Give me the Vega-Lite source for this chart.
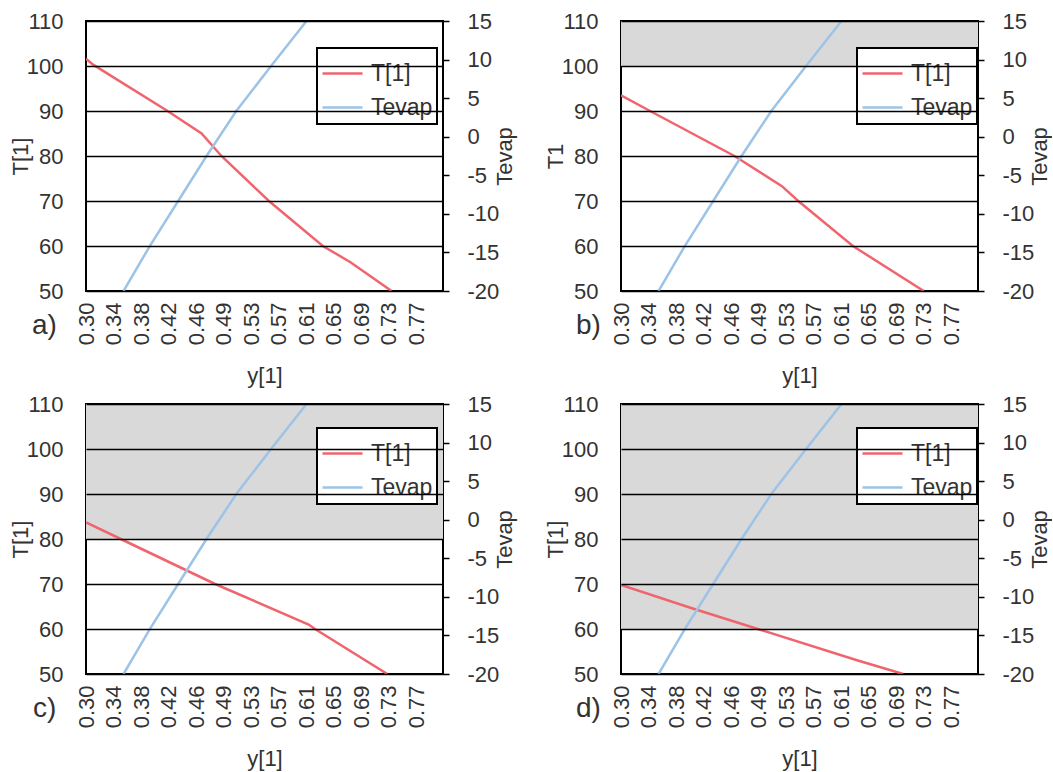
{
  "$schema": "https://vega.github.io/schema/vega-lite/v6.json",
  "padding": {"left": 8, "top": 9, "right": 0, "bottom": 0},
  "background": "white",
  "datasets": {
    "T": [
      {"panel": "a", "y1": 0.300, "T": 101.6},
      {"panel": "a", "y1": 0.310, "T": 100.3},
      {"panel": "a", "y1": 0.415, "T": 90.0},
      {"panel": "a", "y1": 0.463, "T": 85.0},
      {"panel": "a", "y1": 0.491, "T": 80.0},
      {"panel": "a", "y1": 0.558, "T": 70.0},
      {"panel": "a", "y1": 0.634, "T": 60.0},
      {"panel": "a", "y1": 0.673, "T": 56.4},
      {"panel": "a", "y1": 0.731, "T": 50.0},
      {"panel": "b", "y1": 0.300, "T": 93.5},
      {"panel": "b", "y1": 0.341, "T": 90.0},
      {"panel": "b", "y1": 0.460, "T": 80.0},
      {"panel": "b", "y1": 0.527, "T": 73.3},
      {"panel": "b", "y1": 0.550, "T": 70.0},
      {"panel": "b", "y1": 0.627, "T": 60.0},
      {"panel": "b", "y1": 0.727, "T": 50.0},
      {"panel": "c", "y1": 0.300, "T": 83.7},
      {"panel": "c", "y1": 0.349, "T": 80.0},
      {"panel": "c", "y1": 0.482, "T": 70.0},
      {"panel": "c", "y1": 0.614, "T": 61.0},
      {"panel": "c", "y1": 0.623, "T": 60.0},
      {"panel": "c", "y1": 0.725, "T": 50.0},
      {"panel": "d", "y1": 0.300, "T": 69.8},
      {"panel": "d", "y1": 0.400, "T": 64.6},
      {"panel": "d", "y1": 0.493, "T": 60.0},
      {"panel": "d", "y1": 0.634, "T": 53.0},
      {"panel": "d", "y1": 0.698, "T": 50.0}
    ],
    "tevap": [
      {"y1": 0.353, "Tevap": -20.0},
      {"y1": 0.390, "Tevap": -14.17},
      {"y1": 0.430, "Tevap": -8.33},
      {"y1": 0.470, "Tevap": -2.5},
      {"y1": 0.512, "Tevap": 3.33},
      {"y1": 0.561, "Tevap": 9.17},
      {"y1": 0.611, "Tevap": 15.0}
    ],
    "bands": [
      {"panel": "b", "lo": 100, "hi": 110},
      {"panel": "c", "lo": 80, "hi": 110},
      {"panel": "d", "lo": 60, "hi": 110}
    ]
  },
  "columns": 2,
  "spacing": {"row": 4, "column": 26},
  "concat": [
    {
      "width": 357, "height": 270,
      "title": {"text": "a)", "orient": "bottom", "anchor": "start", "frame": "group", "dx": -54, "dy": -79},
      "layer": [
        {
          "layer": [
            {
              "data": {"name": "bands"},
              "transform": [{"filter": "datum.panel === 'a'"}],
              "mark": {"type": "rect", "color": "#d9d9d9"},
              "encoding": {
                "y": {"field": "lo", "type": "quantitative", "scale": {"domain": [50, 110], "nice": false, "zero": false},
                  "axis": {"title": "T[1]", "values": [50, 60, 70, 80, 90, 100, 110], "grid": true, "gridColor": "black", "gridWidth": 1.5, "ticks": false, "domain": false, "labelPadding": 23, "titlePadding": -6, "zindex": 1}},
                "y2": {"field": "hi"}
              }
            },
            {
              "data": {"name": "T"},
              "transform": [{"filter": "datum.panel === 'a'"}, {"calculate": "'T[1]'", "as": "series"}],
              "mark": {"type": "line", "strokeWidth": 2.5, "clip": true},
              "encoding": {
                "x": {"field": "y1", "type": "quantitative", "scale": {"domain": [0.3, 0.8035], "nice": false, "zero": false},
                  "axis": {"title": "y[1]", "values": [0.3, 0.3388, 0.3776, 0.4164, 0.4552, 0.494, 0.5328, 0.5716, 0.6104, 0.6492, 0.688, 0.7268, 0.7656], "format": ".2f", "labelAngle": -90, "labelOverlap": false, "labelFlush": false, "ticks": false, "domain": false, "grid": false, "labelPadding": 11, "titlePadding": 21}},
                "y": {"field": "T", "type": "quantitative", "scale": {"domain": [50, 110], "nice": false, "zero": false},
                  "axis": {"title": "T[1]", "values": [50, 60, 70, 80, 90, 100, 110], "grid": true, "gridColor": "black", "gridWidth": 1.5, "ticks": false, "domain": false, "labelPadding": 23, "titlePadding": -6, "zindex": 1}},
                "color": {"field": "series", "type": "nominal", "scale": {"domain": ["T[1]", "Tevap"], "range": ["#f0646e", "#9dc3e6"]},
                  "legend": {"orient": "none", "legendX": 231, "legendY": 27, "title": null, "strokeColor": "black", "fillColor": "white", "padding": 4, "labelFontSize": 23, "symbolType": "stroke", "symbolSize": 1600, "symbolStrokeWidth": 2.5, "rowPadding": 0, "labelOffset": 7}}
              }
            }
          ]
        },
        {
          "data": {"name": "tevap"},
          "transform": [{"calculate": "'Tevap'", "as": "series"}],
          "mark": {"type": "line", "strokeWidth": 2.5, "clip": true},
          "encoding": {
            "x": {"field": "y1", "type": "quantitative", "scale": {"domain": [0.3, 0.8035], "nice": false, "zero": false},
              "axis": {"title": "y[1]", "values": [0.3, 0.3388, 0.3776, 0.4164, 0.4552, 0.494, 0.5328, 0.5716, 0.6104, 0.6492, 0.688, 0.7268, 0.7656], "format": ".2f", "labelAngle": -90, "labelOverlap": false, "labelFlush": false, "ticks": false, "domain": false, "grid": false, "labelPadding": 11, "titlePadding": 21}},
            "y": {"field": "Tevap", "type": "quantitative", "scale": {"domain": [-20, 15], "nice": false, "zero": false},
              "axis": {"orient": "right", "title": "Tevap", "values": [-20, -15, -10, -5, 0, 5, 10, 15], "labelExpr": "'' + datum.value", "grid": false, "ticks": true, "tickSize": 6, "tickColor": "black", "tickWidth": 1.5, "domain": false, "labelPadding": 18, "titleAngle": 270, "titleBaseline": "top", "titlePadding": -4}},
            "color": {"field": "series", "type": "nominal", "scale": {"domain": ["T[1]", "Tevap"], "range": ["#f0646e", "#9dc3e6"]}}
          }
        }
      ],
      "resolve": {"scale": {"y": "independent"}}
    },
    {
      "width": 357, "height": 270,
      "title": {"text": "b)", "orient": "bottom", "anchor": "start", "frame": "group", "dx": -45, "dy": -79},
      "layer": [
        {
          "layer": [
            {
              "data": {"name": "bands"},
              "transform": [{"filter": "datum.panel === 'b'"}],
              "mark": {"type": "rect", "color": "#d9d9d9"},
              "encoding": {
                "y": {"field": "lo", "type": "quantitative", "scale": {"domain": [50, 110], "nice": false, "zero": false},
                  "axis": {"title": "T1", "values": [50, 60, 70, 80, 90, 100, 110], "grid": true, "gridColor": "black", "gridWidth": 1.5, "ticks": false, "domain": false, "labelPadding": 23, "titlePadding": -6, "zindex": 1}},
                "y2": {"field": "hi"}
              }
            },
            {
              "data": {"name": "T"},
              "transform": [{"filter": "datum.panel === 'b'"}, {"calculate": "'T[1]'", "as": "series"}],
              "mark": {"type": "line", "strokeWidth": 2.5, "clip": true},
              "encoding": {
                "x": {"field": "y1", "type": "quantitative", "scale": {"domain": [0.3, 0.8035], "nice": false, "zero": false},
                  "axis": {"title": "y[1]", "values": [0.3, 0.3388, 0.3776, 0.4164, 0.4552, 0.494, 0.5328, 0.5716, 0.6104, 0.6492, 0.688, 0.7268, 0.7656], "format": ".2f", "labelAngle": -90, "labelOverlap": false, "labelFlush": false, "ticks": false, "domain": false, "grid": false, "labelPadding": 11, "titlePadding": 21}},
                "y": {"field": "T", "type": "quantitative", "scale": {"domain": [50, 110], "nice": false, "zero": false},
                  "axis": {"title": "T1", "values": [50, 60, 70, 80, 90, 100, 110], "grid": true, "gridColor": "black", "gridWidth": 1.5, "ticks": false, "domain": false, "labelPadding": 23, "titlePadding": -6, "zindex": 1}},
                "color": {"field": "series", "type": "nominal", "scale": {"domain": ["T[1]", "Tevap"], "range": ["#f0646e", "#9dc3e6"]},
                  "legend": {"orient": "none", "legendX": 236, "legendY": 27, "title": null, "strokeColor": "black", "fillColor": "white", "padding": 4, "labelFontSize": 23, "symbolType": "stroke", "symbolSize": 1600, "symbolStrokeWidth": 2.5, "rowPadding": 0, "labelOffset": 7}}
              }
            }
          ]
        },
        {
          "data": {"name": "tevap"},
          "transform": [{"calculate": "'Tevap'", "as": "series"}],
          "mark": {"type": "line", "strokeWidth": 2.5, "clip": true},
          "encoding": {
            "x": {"field": "y1", "type": "quantitative", "scale": {"domain": [0.3, 0.8035], "nice": false, "zero": false},
              "axis": {"title": "y[1]", "values": [0.3, 0.3388, 0.3776, 0.4164, 0.4552, 0.494, 0.5328, 0.5716, 0.6104, 0.6492, 0.688, 0.7268, 0.7656], "format": ".2f", "labelAngle": -90, "labelOverlap": false, "labelFlush": false, "ticks": false, "domain": false, "grid": false, "labelPadding": 11, "titlePadding": 21}},
            "y": {"field": "Tevap", "type": "quantitative", "scale": {"domain": [-20, 15], "nice": false, "zero": false},
              "axis": {"orient": "right", "title": "Tevap", "values": [-20, -15, -10, -5, 0, 5, 10, 15], "labelExpr": "'' + datum.value", "grid": false, "ticks": true, "tickSize": 6, "tickColor": "black", "tickWidth": 1.5, "domain": false, "labelPadding": 18, "titleAngle": 270, "titleBaseline": "top", "titlePadding": -4}},
            "color": {"field": "series", "type": "nominal", "scale": {"domain": ["T[1]", "Tevap"], "range": ["#f0646e", "#9dc3e6"]}}
          }
        }
      ],
      "resolve": {"scale": {"y": "independent"}}
    },
    {
      "width": 357, "height": 270,
      "title": {"text": "c)", "orient": "bottom", "anchor": "start", "frame": "group", "dx": -53, "dy": -79},
      "layer": [
        {
          "layer": [
            {
              "data": {"name": "bands"},
              "transform": [{"filter": "datum.panel === 'c'"}],
              "mark": {"type": "rect", "color": "#d9d9d9"},
              "encoding": {
                "y": {"field": "lo", "type": "quantitative", "scale": {"domain": [50, 110], "nice": false, "zero": false},
                  "axis": {"title": "T[1]", "values": [50, 60, 70, 80, 90, 100, 110], "grid": true, "gridColor": "black", "gridWidth": 1.5, "ticks": false, "domain": false, "labelPadding": 23, "titlePadding": -6, "zindex": 1}},
                "y2": {"field": "hi"}
              }
            },
            {
              "data": {"name": "T"},
              "transform": [{"filter": "datum.panel === 'c'"}, {"calculate": "'T[1]'", "as": "series"}],
              "mark": {"type": "line", "strokeWidth": 2.5, "clip": true},
              "encoding": {
                "x": {"field": "y1", "type": "quantitative", "scale": {"domain": [0.3, 0.8035], "nice": false, "zero": false},
                  "axis": {"title": "y[1]", "values": [0.3, 0.3388, 0.3776, 0.4164, 0.4552, 0.494, 0.5328, 0.5716, 0.6104, 0.6492, 0.688, 0.7268, 0.7656], "format": ".2f", "labelAngle": -90, "labelOverlap": false, "labelFlush": false, "ticks": false, "domain": false, "grid": false, "labelPadding": 11, "titlePadding": 21}},
                "y": {"field": "T", "type": "quantitative", "scale": {"domain": [50, 110], "nice": false, "zero": false},
                  "axis": {"title": "T[1]", "values": [50, 60, 70, 80, 90, 100, 110], "grid": true, "gridColor": "black", "gridWidth": 1.5, "ticks": false, "domain": false, "labelPadding": 23, "titlePadding": -6, "zindex": 1}},
                "color": {"field": "series", "type": "nominal", "scale": {"domain": ["T[1]", "Tevap"], "range": ["#f0646e", "#9dc3e6"]},
                  "legend": {"orient": "none", "legendX": 231, "legendY": 24, "title": null, "strokeColor": "black", "fillColor": "white", "padding": 4, "labelFontSize": 23, "symbolType": "stroke", "symbolSize": 1600, "symbolStrokeWidth": 2.5, "rowPadding": 0, "labelOffset": 7}}
              }
            }
          ]
        },
        {
          "data": {"name": "tevap"},
          "transform": [{"calculate": "'Tevap'", "as": "series"}],
          "mark": {"type": "line", "strokeWidth": 2.5, "clip": true},
          "encoding": {
            "x": {"field": "y1", "type": "quantitative", "scale": {"domain": [0.3, 0.8035], "nice": false, "zero": false},
              "axis": {"title": "y[1]", "values": [0.3, 0.3388, 0.3776, 0.4164, 0.4552, 0.494, 0.5328, 0.5716, 0.6104, 0.6492, 0.688, 0.7268, 0.7656], "format": ".2f", "labelAngle": -90, "labelOverlap": false, "labelFlush": false, "ticks": false, "domain": false, "grid": false, "labelPadding": 11, "titlePadding": 21}},
            "y": {"field": "Tevap", "type": "quantitative", "scale": {"domain": [-20, 15], "nice": false, "zero": false},
              "axis": {"orient": "right", "title": "Tevap", "values": [-20, -15, -10, -5, 0, 5, 10, 15], "labelExpr": "'' + datum.value", "grid": false, "ticks": true, "tickSize": 6, "tickColor": "black", "tickWidth": 1.5, "domain": false, "labelPadding": 18, "titleAngle": 270, "titleBaseline": "top", "titlePadding": -4}},
            "color": {"field": "series", "type": "nominal", "scale": {"domain": ["T[1]", "Tevap"], "range": ["#f0646e", "#9dc3e6"]}}
          }
        }
      ],
      "resolve": {"scale": {"y": "independent"}}
    },
    {
      "width": 357, "height": 270,
      "title": {"text": "d)", "orient": "bottom", "anchor": "start", "frame": "group", "dx": -45, "dy": -79},
      "layer": [
        {
          "layer": [
            {
              "data": {"name": "bands"},
              "transform": [{"filter": "datum.panel === 'd'"}],
              "mark": {"type": "rect", "color": "#d9d9d9"},
              "encoding": {
                "y": {"field": "lo", "type": "quantitative", "scale": {"domain": [50, 110], "nice": false, "zero": false},
                  "axis": {"title": "T[1]", "values": [50, 60, 70, 80, 90, 100, 110], "grid": true, "gridColor": "black", "gridWidth": 1.5, "ticks": false, "domain": false, "labelPadding": 23, "titlePadding": -6, "zindex": 1}},
                "y2": {"field": "hi"}
              }
            },
            {
              "data": {"name": "T"},
              "transform": [{"filter": "datum.panel === 'd'"}, {"calculate": "'T[1]'", "as": "series"}],
              "mark": {"type": "line", "strokeWidth": 2.5, "clip": true},
              "encoding": {
                "x": {"field": "y1", "type": "quantitative", "scale": {"domain": [0.3, 0.8035], "nice": false, "zero": false},
                  "axis": {"title": "y[1]", "values": [0.3, 0.3388, 0.3776, 0.4164, 0.4552, 0.494, 0.5328, 0.5716, 0.6104, 0.6492, 0.688, 0.7268, 0.7656], "format": ".2f", "labelAngle": -90, "labelOverlap": false, "labelFlush": false, "ticks": false, "domain": false, "grid": false, "labelPadding": 11, "titlePadding": 21}},
                "y": {"field": "T", "type": "quantitative", "scale": {"domain": [50, 110], "nice": false, "zero": false},
                  "axis": {"title": "T[1]", "values": [50, 60, 70, 80, 90, 100, 110], "grid": true, "gridColor": "black", "gridWidth": 1.5, "ticks": false, "domain": false, "labelPadding": 23, "titlePadding": -6, "zindex": 1}},
                "color": {"field": "series", "type": "nominal", "scale": {"domain": ["T[1]", "Tevap"], "range": ["#f0646e", "#9dc3e6"]},
                  "legend": {"orient": "none", "legendX": 236, "legendY": 24, "title": null, "strokeColor": "black", "fillColor": "white", "padding": 4, "labelFontSize": 23, "symbolType": "stroke", "symbolSize": 1600, "symbolStrokeWidth": 2.5, "rowPadding": 0, "labelOffset": 7}}
              }
            }
          ]
        },
        {
          "data": {"name": "tevap"},
          "transform": [{"calculate": "'Tevap'", "as": "series"}],
          "mark": {"type": "line", "strokeWidth": 2.5, "clip": true},
          "encoding": {
            "x": {"field": "y1", "type": "quantitative", "scale": {"domain": [0.3, 0.8035], "nice": false, "zero": false},
              "axis": {"title": "y[1]", "values": [0.3, 0.3388, 0.3776, 0.4164, 0.4552, 0.494, 0.5328, 0.5716, 0.6104, 0.6492, 0.688, 0.7268, 0.7656], "format": ".2f", "labelAngle": -90, "labelOverlap": false, "labelFlush": false, "ticks": false, "domain": false, "grid": false, "labelPadding": 11, "titlePadding": 21}},
            "y": {"field": "Tevap", "type": "quantitative", "scale": {"domain": [-20, 15], "nice": false, "zero": false},
              "axis": {"orient": "right", "title": "Tevap", "values": [-20, -15, -10, -5, 0, 5, 10, 15], "labelExpr": "'' + datum.value", "grid": false, "ticks": true, "tickSize": 6, "tickColor": "black", "tickWidth": 1.5, "domain": false, "labelPadding": 18, "titleAngle": 270, "titleBaseline": "top", "titlePadding": -4}},
            "color": {"field": "series", "type": "nominal", "scale": {"domain": ["T[1]", "Tevap"], "range": ["#f0646e", "#9dc3e6"]}}
          }
        }
      ],
      "resolve": {"scale": {"y": "independent"}}
    }
  ],
  "resolve": {"scale": {"color": "independent", "x": "independent"}, "legend": {"color": "independent"}},
  "config": {
    "font": "Liberation Sans",
    "view": {"stroke": "black", "strokeWidth": 2},
    "axis": {"labelFontSize": 22, "titleFontSize": 22, "labelColor": "#333333", "titleColor": "#333333", "titleFontWeight": "normal", "labelFont": "Liberation Sans", "titleFont": "Liberation Sans"},
    "axisX": {"labelOverlap": false},
    "legend": {"labelColor": "#333333", "labelFont": "Liberation Sans", "strokeWidth": 2},
    "title": {"fontSize": 28, "fontWeight": "normal", "color": "#333333", "font": "Liberation Sans"}
  }
}
